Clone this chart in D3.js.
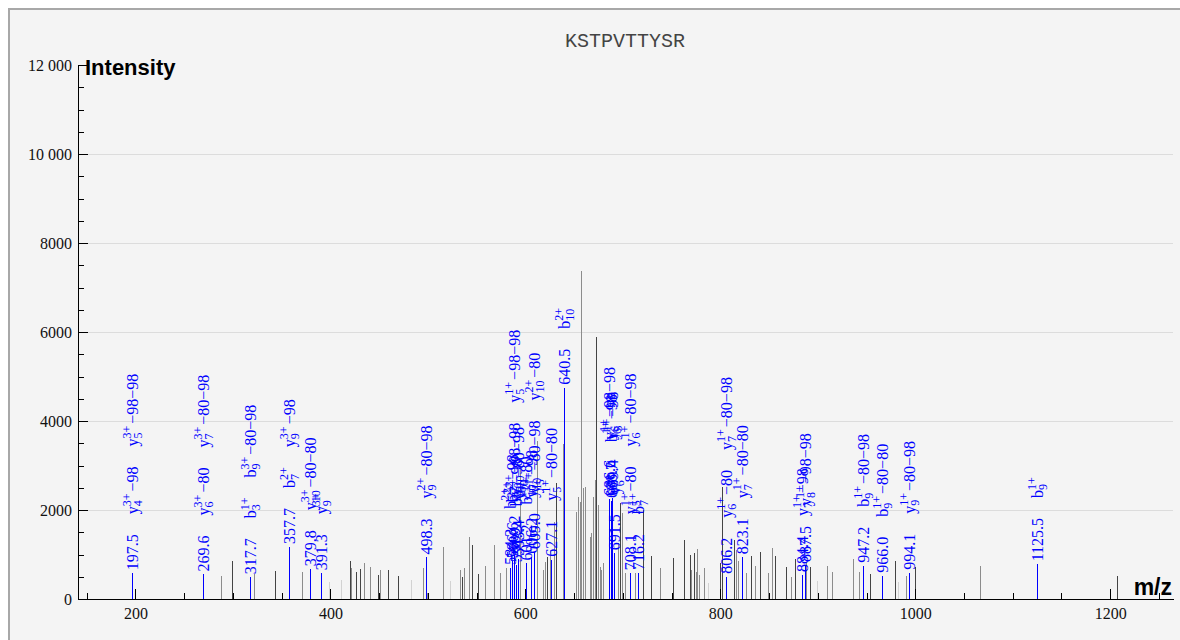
<!DOCTYPE html>
<html><head><meta charset="utf-8">
<script src="https://cdn.jsdelivr.net/npm/d3@7"></script>
<style>
html,body{margin:0;padding:0;background:#fff;}
svg{display:block;}
</style></head><body>
<svg id="chart" width="1180" height="640"></svg>
<script>
// ---------------- data ----------------
const title = "KSTPVTTYSR";
const xLabel = "m/z";
const yLabel = "Intensity";
const xTickValues = [200, 400, 600, 800, 1000, 1200];
const xTickLabels = ["200", "400", "600", "800", "1000", "1200"];
const yTickValues = [0, 2000, 4000, 6000, 8000, 10000, 12000];
const yTickLabels = ["0", "2000", "4000", "6000", "8000", "10 000", "12 000"];

// unannotated peaks
const peakMz = [287.8,300.1,321.7,343.5,371.2,398.9,411.3,421.0,422.0,426.6,430.7,435.5,441.4,449.6,451.6,460.0,470.3,483.6,495.8,499.9,
  515.6,523.5,533.8,535.5,537.5,543.0,546.1,552.3,559.5,568.7,574.9,581.0,594.6,612.0,618.5,620.6,623.0,625.4,629.8,631.6,639.0,
  652.8,654.5,656.2,657.9,659.6,661.6,666.5,668.2,669.9,671.9,673.3,675.0,676.7,678.4,680.1,695.5,697.2,699.6,702.4,713.5,
  721.3,729.6,738.2,751.6,763.2,769.0,770.8,773.5,775.2,776.6,778.6,784.3,787.6,799.9,802.5,814.3,816.7,819.1,827.0,832.2,
  835.9,841.0,849.8,853.9,856.6,867.9,873.0,877.1,888.8,892.5,900.1,909.6,914.8,937.0,943.2,954.1,979.4,983.2,991.4,1000.3,
  1066.5,1207.6];
const peakIntensity = [516,852,553,636,600,374,426,852,688,613,665,800,710,531,650,650,516,426,688,127,
  1159,404,650,500,688,1383,1204,561,740,1211,590,702,3000,3550,652,832,944,1101,1740,2600,3475,
  1947,2284,2187,7375,2487,2517,1393,1475,2295,2674,5890,2112,720,650,800,1251,2150,1925,577,577,
  2000,970,690,930,1326,989,652,1041,614,1116,539,704,367,800,2520,1326,1101,850,591,966,
  749,1063,591,1139,966,712,487,891,816,726,404,741,599,899,613,562,861,389,517,726,
  741,516];
// peak group: 0 = strong shade, 1 = medium, 2 = faint
const peakGroup = [1,0,1,0,1,2,2,0,1,0,0,1,1,0,1,0,0,2,1,1,
  1,2,1,0,1,1,0,0,1,1,1,1,1,1,1,1,0,1,1,0,1,
  1,1,1,1,1,1,1,1,1,1,0,1,1,1,1,1,0,1,1,1,
  0,0,1,0,0,0,1,0,1,1,1,1,2,0,0,0,1,1,1,0,
  1,0,1,1,0,0,1,0,1,0,2,1,1,1,1,0,0,2,1,0,
  1,0];

// annotated peaks: ion label format "ion|subscript|charge|losses"
const annMz = [197.5,269.6,317.7,357.7,379.8,391.3,498.3,
  584.3,586.6,589.2,591.2,593.4,601.2,606.2,609.0,627.1,640.5,
  686.6,688.7,689.4,691.5,708.1,716.2,806.2,823.1,884.4,887.5,947.2,966.0,994.1,1125.5];
const annIntensity = [577,553,486,1170,667,577,935,
  700,850,1000,760,900,800,950,1050,880,4750,
  2250,2200,2260,1030,580,584,500,940,540,764,748,524,590,779];
const annIons = [
  ["y|4|3+|−98","y|5|3+|−98−98"],
  ["y|6|3+|−80","y|7|3+|−80−98"],
  ["b|3|1+|","b|9|3+|−80−98"],
  ["b|7|2+|","y|9|3+|−98"],
  ["y|10|3+|−80−80"],
  ["y|9|3+|"],
  ["y|9|2+|−80−98"],
  ["b|5|2+|"],
  ["b|10|2+|−98"],
  ["y|10|2+|−98−98","y|5|1+|−98−98"],
  ["b|10|2+|−98"],
  ["y|10|2+|−80−98"],
  ["b|10|2+|−80"],
  ["y|10|2+|−98"],
  ["y|5|1+|−80−98","y|10|2+|−80"],
  ["y|5|1+|−80−80"],
  ["b|10|2+|"],
  ["y|6|1+|−98−98"],
  ["b|6|1+|−98"],
  ["y|5|1+|−98"],
  ["y|6|1+|"],
  ["y|5|1+|−80","y|6|1+|−80−98"],
  ["b|7|1+|"],
  ["y|6|1+|−80","y|7|1+|−80−98"],
  ["y|7|1+|−80−80"],
  ["y|7|1+|−98"],
  ["y|8|1+|−98−98"],
  ["b|9|1+|−80−98"],
  ["b|9|1+|−80−80"],
  ["y|9|1+|−80−98"],
  ["b|9|1+|"]
];

// ---------------- drawing ----------------
const svg = d3.select("#chart");
const serif = "'Liberation Serif','Times New Roman',serif";
const sans = "'Liberation Sans',Arial,sans-serif";
const blue = "#0000ff";

svg.append("rect").attr("x", 0).attr("y", 0).attr("width", 1180).attr("height", 640).attr("fill", "#fff");
svg.append("rect").attr("x", 9).attr("y", 9).attr("width", 1180).attr("height", 640)
  .attr("fill", "#f4f4f4").attr("stroke", "#a8a8a8").attr("stroke-width", 2);

const x = d3.scaleLinear().domain([141.1, 1264.4]).range([78, 1173]);
const y = d3.scaleLinear().domain([0, 12000]).range([599, 65]);

// grid
svg.append("g").selectAll("line").data(yTickValues.filter(v => v > 0 && v < 12000)).join("line")
  .attr("x1", x.range()[0]).attr("x2", x.range()[1])
  .attr("y1", d => Math.round(y(d)) + 0.5).attr("y2", d => Math.round(y(d)) + 0.5)
  .attr("stroke", "#dcdcdc").attr("stroke-width", 1);

// title
svg.append("text").attr("x", 625).attr("y", 47).attr("text-anchor", "middle")
  .attr("font-family", "'Liberation Mono','Courier New',monospace").attr("font-size", 20)
  .attr("fill", "#444").text(title);

// peaks
const peakShade = d3.scaleOrdinal().domain([0, 1, 2]).range(["#444", "#8c8c8c", "#d2d2d2"]);
svg.append("g").attr("shape-rendering", "crispEdges").selectAll("line").data(d3.range(peakMz.length)).join("line")
  .attr("x1", i => x(peakMz[i])).attr("x2", i => x(peakMz[i]))
  .attr("y1", y(0)).attr("y2", i => y(peakIntensity[i]))
  .attr("stroke", i => peakShade(peakGroup[i])).attr("stroke-width", 1);

// annotated peaks
const ann = svg.append("g");
ann.append("g").attr("shape-rendering", "crispEdges").selectAll("line").data(d3.range(annMz.length)).join("line")
  .attr("x1", i => x(annMz[i])).attr("x2", i => x(annMz[i]))
  .attr("y1", y(0)).attr("y2", i => y(annIntensity[i]))
  .attr("stroke", blue).attr("stroke-width", 1);

const labelLayer = ann.append("g").attr("font-family", serif).attr("fill", blue);
annMz.forEach((mz, i) => {
  const g = labelLayer.append("g")
    .attr("transform", `translate(${x(mz)},${y(annIntensity[i])}) rotate(-90)`);
  const base = 5.5;
  const mt = g.append("text").attr("x", 3).attr("y", base).attr("font-size", 16).text(mz.toFixed(1));
  let u = 3 + mt.node().getComputedTextLength() + 20;
  annIons[i].forEach(s => {
    const [ion, sub, chg, loss] = s.split("|");
    const t = g.append("text").attr("x", u).attr("y", base).attr("font-size", 16).text(ion);
    const w = t.node().getComputedTextLength();
    const ts = g.append("text").attr("x", u + w).attr("y", base + 4).attr("font-size", 12).text(sub);
    const tp = g.append("text").attr("x", u + w).attr("y", base - 7).attr("font-size", 12).text(chg);
    let total = w + Math.max(ts.node().getComputedTextLength(), tp.node().getComputedTextLength());
    if (loss) {
      const tl = g.append("text").attr("x", u + total + 2).attr("y", base).attr("font-size", 16).text(loss);
      total += 2 + tl.node().getComputedTextLength();
    }
    u += total + 20;
  });
});

// axes
const yAxis = d3.axisLeft(y).tickValues(yTickValues).tickSizeInner(-10).tickSizeOuter(0).tickPadding(6)
  .tickFormat((d, i) => yTickLabels[i]);
const yMinor = d3.axisLeft(y).tickValues(d3.range(500, 12000, 500).filter(v => v % 2000 !== 0))
  .tickSizeInner(-6).tickSizeOuter(0).tickFormat("");
const xAxis = d3.axisBottom(x).tickValues(xTickValues).tickSizeInner(-10).tickSizeOuter(0).tickPadding(9)
  .tickFormat((d, i) => xTickLabels[i]);
const xMinor = d3.axisBottom(x).tickValues(d3.range(150, 1264, 50).filter(v => v % 200 !== 0))
  .tickSizeInner(-6).tickSizeOuter(0).tickFormat("");

function styleAxis(g) {
  g.attr("font-family", serif).attr("font-size", 16);
  g.selectAll("path,line").attr("stroke", "#000").attr("shape-rendering", "crispEdges");
  g.selectAll("text").attr("fill", "#111");
}
svg.append("g").attr("transform", "translate(78,0)").call(yMinor).call(styleAxis);
svg.append("g").attr("transform", "translate(78,0)").call(yAxis).call(styleAxis);
svg.append("g").attr("transform", "translate(0,599)").call(xMinor).call(styleAxis);
svg.append("g").attr("transform", "translate(0,599)").call(xAxis).call(styleAxis);

// axis titles
svg.append("text").attr("x", 85).attr("y", 75).attr("font-family", sans).attr("font-weight", "bold")
  .attr("font-size", 22).attr("fill", "#000").text(yLabel);
svg.append("text").attr("x", 1172).attr("y", 595).attr("text-anchor", "end").attr("font-family", sans)
  .attr("font-weight", "bold").attr("font-size", 23).attr("fill", "#000").text(xLabel);
</script>
</body></html>
